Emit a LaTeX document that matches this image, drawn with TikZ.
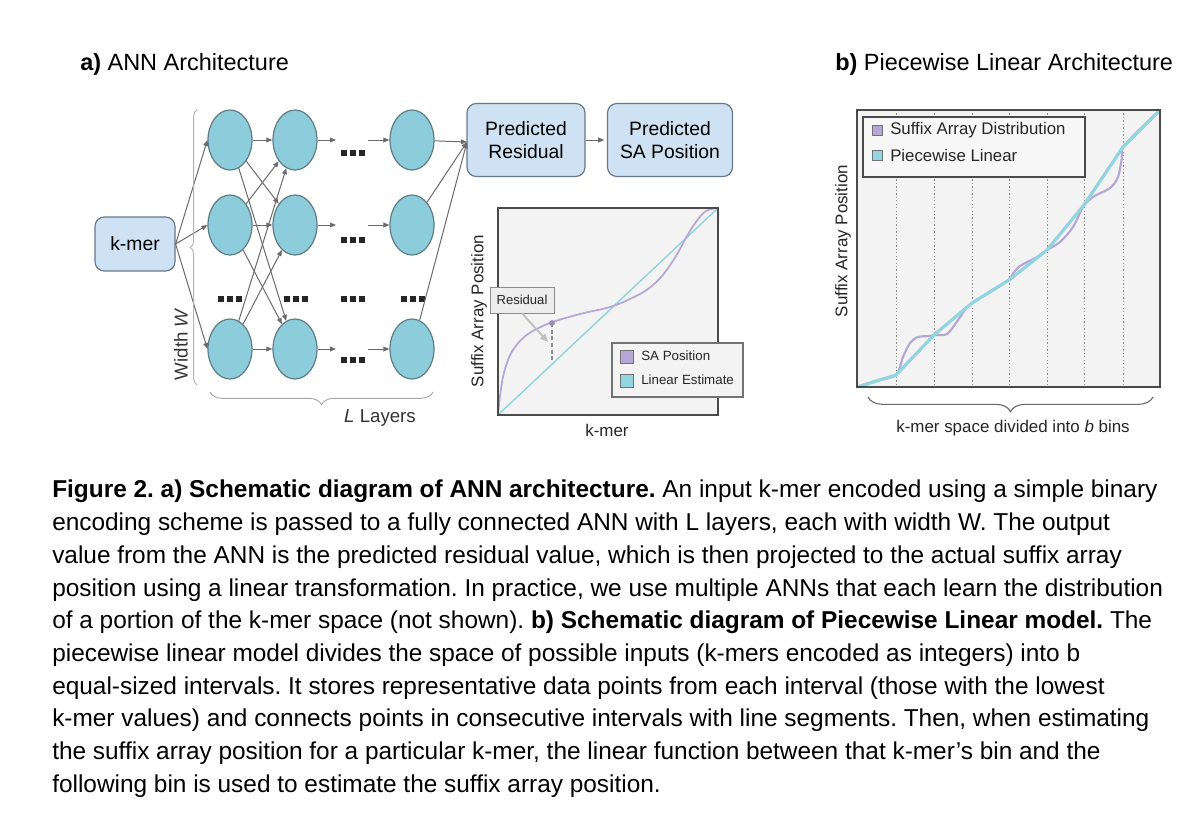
\documentclass[tikz,border=0pt]{standalone}
\usepackage{fontspec}
\setmainfont{Liberation Sans}
\usetikzlibrary{shapes.geometric,arrows.meta,decorations.pathreplacing}
\definecolor{nodefill}{HTML}{8DCDDB}
\definecolor{nodeline}{HTML}{5E7C86}
\definecolor{boxfill}{HTML}{CFE2F3}
\definecolor{boxline}{HTML}{66788A}
\definecolor{arr}{HTML}{6B6B6B}
\definecolor{plotbg}{HTML}{F3F3F3}
\definecolor{purp}{HTML}{B4A7D6}
\definecolor{cyanl}{HTML}{92D4E0}
\definecolor{framec}{HTML}{4A4A4A}
\newcommand\dotgrp[2]{\foreach \dx in {-9,0,9}{\fill[black!85] ({#1+\dx-3},{#2-3}) rectangle ({#1+\dx+3},{#2+3});}}
\frenchspacing
\begin{document}
\begin{tikzpicture}[x=0.75pt,y=-0.75pt,
  neuron/.style={ellipse,draw=nodeline,fill=nodefill,line width=0.9pt,minimum width=33pt,minimum height=45pt,inner sep=0pt},
  rbox/.style={draw=boxline,fill=boxfill,rounded corners=7pt,line width=0.9pt,align=center,inner sep=0pt,font=\fontsize{14.5}{17.3}\selectfont},
  conn/.style={draw=arr,line width=0.75pt,-{Triangle[length=4.5pt,width=3.6pt]}},
  titletxt/.style={anchor=base west,inner sep=0pt,font=\fontsize{17.6}{20}\selectfont},
  captxt/.style={anchor=base west,inner sep=0pt,font=\fontsize{18.3}{21}\selectfont},
  axlab/.style={inner sep=0pt,font=\fontsize{12.7}{15}\selectfont,text=black!85},
  legtxt/.style={anchor=west,inner sep=0pt,font=\fontsize{10}{12}\selectfont,text=black!85},
  legtxtb/.style={anchor=west,inner sep=0pt,font=\fontsize{12.6}{14}\selectfont,text=black!85},
  bracelab/.style={inner sep=0pt,font=\fontsize{14}{16}\selectfont,text=black!80}]
\useasboundingbox (0,0) rectangle (1200,822);
\fill[white] (0,0) rectangle (1200,822);

% titles
\node[titletxt] (ta) at (80,70) {\textbf{a)} ANN Architecture};
\node[titletxt] (tb) at (835,70) {\textbf{b)} Piecewise Linear Architecture};

% ANN nodes
\node[rbox,minimum width=60pt,minimum height=40.5pt] (kmer) at (135,244) {k-mer};
\foreach \r/\y in {1/140,2/225,3/349}{
  \node[neuron] (c1\r) at (230,\y) {};
  \node[neuron] (c2\r) at (295,\y) {};
  \node[neuron] (c4\r) at (412,\y) {};
}
\node[rbox,minimum width=88.5pt,minimum height=54.75pt] (pr) at (526,140) {Predicted\\Residual};
\node[rbox,minimum width=93.75pt,minimum height=54.75pt] (sa) at (670,140) {Predicted\\SA Position};

% dots
\dotgrp{353}{153}
\dotgrp{353}{240}
\dotgrp{353}{360}
\dotgrp{230}{299}
\dotgrp{296}{299}
\dotgrp{353}{299}
\dotgrp{413}{299}

% k-mer to first layer
\foreach \r in {1,2,3}{\draw[conn] (kmer.east) -- (c1\r.west);}
% first to second layer
\foreach \a in {1,2,3}{\foreach \b in {1,2,3}{\draw[conn] (c1\a) -- (c2\b);}}
% second layer to dots to last layer
\foreach \r/\y in {1/140,2/225,3/349}{
  \coordinate (pa\r) at (336,\y);
  \coordinate (pb\r) at (368,\y);
  \draw[conn] (c2\r) -- (pa\r);
  \draw[conn] (pb\r) -- (c4\r);
}
\coordinate (pin) at (467,142);
\foreach \r in {1,2,3}{\draw[conn] (c4\r) -- (pin);}
\draw[conn,shorten >=2pt] (pr.east) -- (sa.west);

% braces
\draw[decorate,decoration={brace,amplitude=5pt},draw=black!30,line width=0.7pt] (197,385) -- (197,110);
\node[bracelab,rotate=90] (ww) at (181,344) {Width \textit{W}};
\draw[decorate,decoration={brace,amplitude=9.5pt},draw=black!35,line width=0.7pt] (433,392) -- (210,392);
\node[bracelab] (ll) at (380,418) {\textit{L} Layers};

% chart a
\fill[plotbg] (498,208) rectangle (718,415);
\draw[cyanl,line width=1.1pt] (498,415) -- (718,208);
\draw[purp,line width=1.3pt] plot[smooth,tension=0.6] coordinates {(498,415) (500,396) (503,377) (508,360) (515,347) (528,334) (550,323) (580,314) (610,307) (632,298) (648,289) (662,276) (676,256) (687,236) (696,222) (706,211) (718,208)};
\draw[framec,line width=1pt] (498,208) rectangle (718,415);
\draw[black!45,dash pattern=on 3pt off 2pt,line width=0.8pt] (552,323) -- (552,362);
\fill[purp!85!black] (552,323) circle (2.2pt);
\node[draw=black!45,fill=black!7,inner sep=0pt,minimum width=48pt,minimum height=19.5pt,font=\fontsize{9.8}{12}\selectfont,text=black!85] (resid) at (522,300) {Residual};
\coordinate (rtip) at (548,342);
\draw[black!25,line width=1.4pt,-{Triangle[length=6pt,width=5pt]}] (resid.south) -- (rtip);
\node[draw=black!55,fill=plotbg,line width=0.8pt,minimum width=98.25pt,minimum height=40.5pt,inner sep=0pt] (lega) at (677.5,370) {};
\fill[purp,draw=black!55] (620,350) rectangle (633,363);
\fill[cyanl,draw=black!55] (620,374) rectangle (633,387);
\node[legtxt] (la1) at (641,356) {SA Position};
\node[legtxt] (la2) at (641,380) {Linear Estimate};
\node[axlab,rotate=90] (ya) at (479,311) {Suffix Array Position};
\node[axlab] (xa) at (607,430) {k-mer};

% chart b
\fill[plotbg] (857,110) rectangle (1160,387);
\foreach \x in {896,934,972,1009,1047,1084,1123}{\draw[black!45,dash pattern=on 1pt off 1.6pt,line width=0.6pt] (\x,110) -- (\x,387);}
\draw[purp,line width=1.6pt] plot[smooth,tension=0.5] coordinates {(857,387) (876,381) (896,375) (903,357) (910,343) (918,337) (930,336) (934,335) (947,334) (958,320) (967,307) (972,303) (990,292) (1009,280) (1012,275) (1020,266) (1037,257) (1047,250) (1060,242) (1073,227) (1083,207) (1093,197) (1110,188) (1118,177) (1122,157) (1123,147) (1141,128) (1160,110)};
\draw[cyanl,line width=2.4pt] (857,387) -- (896,375) -- (934,335) -- (972,303) -- (1009,280) -- (1047,250) -- (1084,205) -- (1123,147) -- (1160,110);
\draw[framec,line width=1pt] (857,110) rectangle (1160,387);
\node[draw=framec,fill=black!3,line width=1pt,minimum width=166.5pt,minimum height=45pt,inner sep=0pt] (legb) at (974,147) {};
\fill[purp,draw=black!55] (872,125) rectangle (882,135);
\fill[cyanl,draw=black!55] (872,150) rectangle (882,160);
\node[legtxtb] (lb1) at (890,130) {Suffix Array Distribution};
\node[legtxtb] (lb2) at (890,155) {Piecewise Linear};
\node[axlab,rotate=90] (yb) at (843,241) {Suffix Array Position};
\draw[decorate,decoration={brace,amplitude=11pt},draw=black!60,line width=0.8pt] (1153,397) -- (868,397);
\node[axlab] (xb) at (1013,428) {k-mer space divided into \textit{b} bins};

% caption
\node[captxt] (l1) at (52,497) {\textbf{Figure 2. a) Schematic diagram of ANN architecture.} An input k-mer encoded using a simple binary};
\node[captxt] (l2) at (52,530) {encoding scheme is passed to a fully connected ANN with L layers, each with width W. The output};
\node[captxt] (l3) at (52,563) {value from the ANN is the predicted residual value, which is then projected to the actual suffix array};
\node[captxt] (l4) at (52,596) {position using a linear transformation. In practice, we use multiple ANNs that each learn the distribution};
\node[captxt] (l5) at (52,628) {of a portion of the k-mer space (not shown). \textbf{b) Schematic diagram of Piecewise Linear model.} The};
\node[captxt] (l6) at (52,661) {piecewise linear model divides the space of possible inputs (k-mers encoded as integers) into b};
\node[captxt] (l7) at (52,694) {equal-sized intervals. It stores representative data points from each interval (those with the lowest};
\node[captxt] (l8) at (52,726) {k-mer values) and connects points in consecutive intervals with line segments. Then, when estimating};
\node[captxt] (l9) at (52,759) {the suffix array position for a particular k-mer, the linear function between that k-mer’s bin and the};
\node[captxt] (l10) at (52,792) {following bin is used to estimate the suffix array position.};
\end{tikzpicture}
\end{document}
